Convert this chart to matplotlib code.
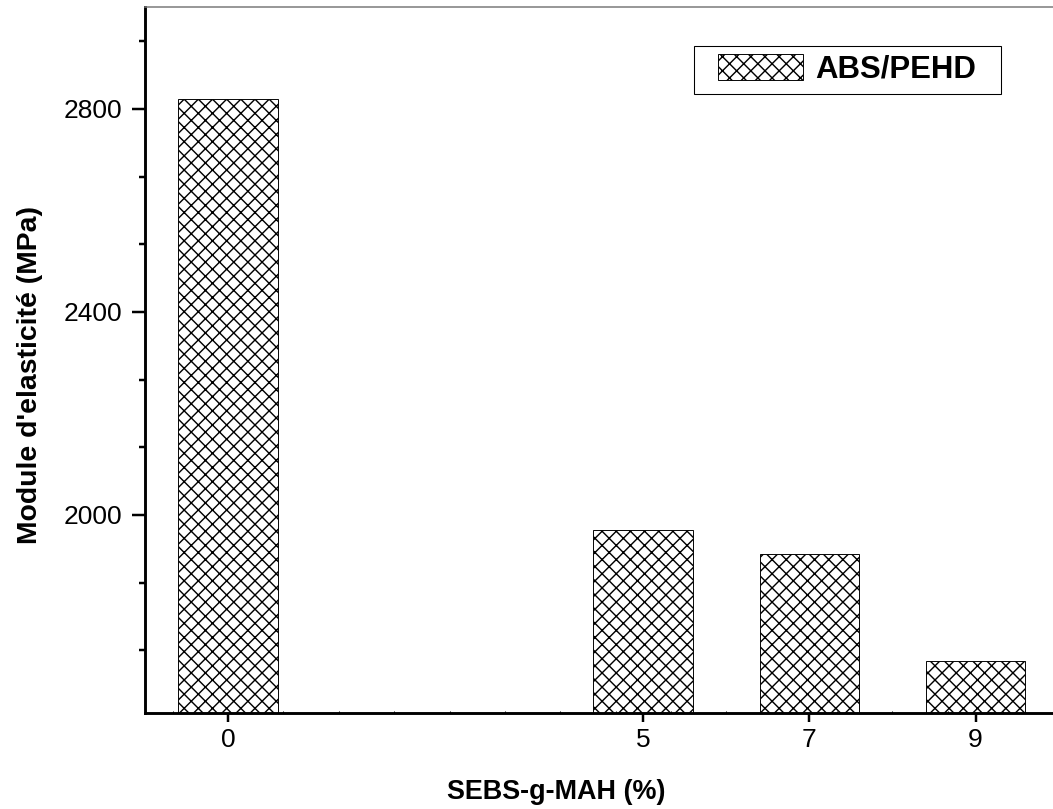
import matplotlib
matplotlib.use("Agg")
import matplotlib.pyplot as plt
from matplotlib.ticker import MultipleLocator, FixedLocator
from matplotlib.patches import Rectangle

# SEBS-g-MAH content (%) and elastic modulus (MPa) of the ABS/PEHD blend
sebs_content = [0, 5, 7, 9]
modulus = [2820, 1970, 1923, 1713]
x_tick_labels = ["0", "5", "7", "9"]
y_major_ticks = [2000, 2400, 2800]
series_name = "ABS/PEHD"

DPI = 85
W, H = 1053, 809

plt.rcParams["font.family"] = ["Liberation Sans", "DejaVu Sans"]
plt.rcParams["hatch.linewidth"] = 1.2
plt.rcParams["hatch.color"] = "black"

fig = plt.figure(figsize=(W / DPI, H / DPI), dpi=DPI)
fig.patch.set_facecolor("white")

# axes frame in pixel units of the canvas
left_px, right_px, bottom_px, top_px = 145, 1058.6, 713, 7.3
ax_w, ax_h = right_px - left_px, bottom_px - top_px
ax = fig.add_axes([left_px / W, 1 - bottom_px / H, ax_w / W, ax_h / H])

ax.bar(sebs_content, modulus, width=1.2, facecolor="white",
       edgecolor="black", linewidth=0.8, hatch="xx", label=series_name)

ax.set_xlim(-1, 10)
ax.set_ylim(1610, 3000)

# ticks
ax.xaxis.set_major_locator(FixedLocator(sebs_content))
ax.set_xticklabels(x_tick_labels)
ax.xaxis.set_minor_locator(MultipleLocator(2 / 3))
ax.yaxis.set_major_locator(FixedLocator(y_major_ticks))
ax.yaxis.set_minor_locator(MultipleLocator(400 / 3))

ax.tick_params(axis="y", which="major", direction="out", length=11, width=2.1,
               pad=8, labelsize=22.4, color="black")
ax.tick_params(axis="y", which="minor", direction="out", length=5.2, width=2.1)
ax.tick_params(axis="x", which="major", direction="out", length=7.6, width=2.1,
               pad=5, labelsize=22.4)
ax.tick_params(axis="x", which="minor", direction="in", length=2, width=0.9)

# spines
for side in ("left", "bottom"):
    ax.spines[side].set_linewidth(2.45)
    ax.spines[side].set_color("black")
ax.spines["top"].set_linewidth(1.3)
ax.spines["top"].set_color("#7a7a7a")
ax.spines["right"].set_visible(False)

ax.set_xlabel("SEBS-g-MAH (%)", fontsize=22.9, fontweight="bold")
ax.xaxis.set_label_coords((556 - left_px) / ax_w, -(779 - bottom_px) / ax_h)
ax.set_ylabel("Module d'elasticité (MPa)", fontsize=24, fontweight="bold")
ax.yaxis.set_label_coords((43 - left_px) / ax_w, (bottom_px - 375) / ax_h)

# legend
leg_fs = 26.35
leg_px = leg_fs * DPI / 72
leg = ax.legend(loc="center left", bbox_to_anchor=(718 / W, 1 - 69.5 / H),
                bbox_transform=fig.transFigure, frameon=False, borderpad=0,
                borderaxespad=0, handlelength=85 / leg_px, handleheight=27 / leg_px,
                handletextpad=12 / leg_px, prop={"weight": "bold", "size": leg_fs})
box = Rectangle((694 / W, 1 - 94 / H), (1001 - 694) / W, (94 - 45.7) / H,
                transform=fig.transFigure, fill=False, edgecolor="black", linewidth=0.9)
fig.add_artist(box)

fig.savefig("out.png", dpi=DPI)
